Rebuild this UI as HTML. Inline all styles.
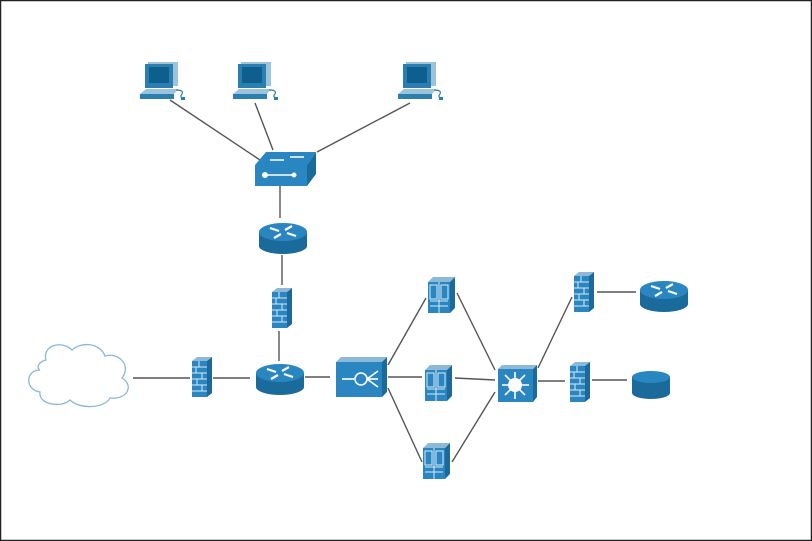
<!DOCTYPE html>
<html><head><style>html,body{margin:0;padding:0;background:#fff}svg{display:block}</style></head><body>
<svg width="812" height="541" viewBox="0 0 812 541" xmlns="http://www.w3.org/2000/svg">
<defs>
<g id="pc">
  <rect x="8" y="0" width="30" height="24" fill="#9cc3dc"/>
  <rect x="5" y="2" width="28" height="24" fill="#2a7fb0"/>
  <rect x="9" y="5" width="20" height="16" fill="#0f5f8e"/>
  <polygon points="0,32 6,27 38,27 34,32" fill="#9cc3dc"/>
  <rect x="0" y="32" width="34" height="5" fill="#2a7fb0"/>
  <path d="M36,28 q8,0 6,4 q-3,3 2,5" stroke="#2a7fb0" stroke-width="1.2" fill="none"/>
  <rect x="41" y="35" width="4" height="3" fill="#2a7fb0"/>
</g>
<g id="fw">
  <polygon points="0,4 5,0 20,0 15,4" fill="#8cb9d8"/>
  <polygon points="15,4 20,0 20,36 15,40" fill="#1d6a9a"/>
  <rect x="0" y="4" width="15" height="36" fill="#2a86c0"/>
  <g stroke="#d8ecf7" stroke-width="1">
    <line x1="0" y1="10" x2="15" y2="10"/><line x1="0" y1="16" x2="15" y2="16"/><line x1="0" y1="22" x2="15" y2="22"/><line x1="0" y1="28" x2="15" y2="28"/><line x1="0" y1="34" x2="15" y2="34"/>
    <line x1="7" y1="4" x2="7" y2="10"/><line x1="4" y1="10" x2="4" y2="16"/><line x1="10" y1="16" x2="10" y2="22"/><line x1="5" y1="22" x2="5" y2="28"/><line x1="10" y1="28" x2="10" y2="34"/>
  </g>
</g>
<g id="router">
  <rect x="0" y="12" width="48" height="14" fill="#1a6a9c"/>
  <ellipse cx="24" cy="26" rx="24" ry="8" fill="#1a6a9c"/>
  <ellipse cx="24" cy="12" rx="24" ry="9" fill="#2a86c0"/>
  <g stroke="#fff" stroke-width="2.2">
    <line x1="11" y1="8" x2="20" y2="11"/><line x1="37" y1="16" x2="28" y2="13"/>
    <line x1="33" y1="6" x2="26" y2="10"/><line x1="15" y1="18" x2="22" y2="14"/>
  </g>
</g>
<g id="srv">
  <polygon points="0,5 5,0 27,0 22,5" fill="#8cb9d8"/>
  <polygon points="22,5 27,0 27,31 22,36" fill="#1d6a9a"/>
  <rect x="0" y="5" width="22" height="31" fill="#2a86c0"/>
  <g stroke="#d8ecf7" stroke-width="1" fill="none">
    <line x1="11" y1="5" x2="11" y2="36"/><line x1="2" y1="24" x2="20" y2="24"/><line x1="2" y1="29" x2="20" y2="29"/>
    <rect x="2" y="8" width="7" height="14"/><rect x="13" y="8" width="7" height="14"/>
  </g>
</g>
</defs>
<rect x="0.5" y="0.5" width="811" height="540" fill="#fff" stroke="#222" stroke-width="1.5"/>
<g stroke="#555" stroke-width="1.4" fill="none">
  <line x1="170" y1="100" x2="260" y2="160"/>
  <line x1="255" y1="103" x2="273" y2="150"/>
  <line x1="410" y1="103" x2="317" y2="152"/>
  <line x1="280" y1="186" x2="280" y2="218"/>
  <line x1="282" y1="255" x2="282" y2="285"/>
  <line x1="279" y1="331" x2="279" y2="361"/>
  <line x1="133" y1="378" x2="190" y2="378"/>
  <line x1="213" y1="378" x2="250" y2="378"/>
  <line x1="305" y1="377" x2="330" y2="377"/>
  <line x1="388" y1="365" x2="426" y2="298"/>
  <line x1="388" y1="377" x2="422" y2="377"/>
  <line x1="388" y1="388" x2="422" y2="462"/>
  <line x1="457" y1="293" x2="495" y2="370"/>
  <line x1="455" y1="378" x2="495" y2="380"/>
  <line x1="452" y1="462" x2="495" y2="392"/>
  <line x1="538" y1="368" x2="572" y2="297"/>
  <line x1="538" y1="381" x2="565" y2="381"/>
  <line x1="597" y1="292" x2="636" y2="292"/>
  <line x1="592" y1="380" x2="627" y2="380"/>
</g>
<use href="#pc" x="140" y="62"/>
<use href="#pc" x="233" y="62"/>
<use href="#pc" x="398" y="62"/>
<!-- switch -->
<polygon points="255,165 266,152 316,152 307,165" fill="#2a86c0"/>
<polygon points="307,165 316,152 316,174 307,186" fill="#1a6a9c"/>
<rect x="255" y="165" width="52" height="21" fill="#2a86c0"/>
<g stroke="#fff" stroke-width="1.5"><line x1="270" y1="160" x2="284" y2="160"/><line x1="290" y1="157" x2="304" y2="157"/><line x1="266" y1="175" x2="292" y2="175"/></g>
<circle cx="265" cy="175" r="3" fill="#fff"/><circle cx="294" cy="175" r="2.5" fill="#fff"/>
<use href="#router" x="259" y="220"/>
<use href="#fw" x="272" y="288"/>
<use href="#router" x="256" y="361"/>
<!-- cloud -->
<path d="M40,370 C25,370 25,390 40,392 C38,405 62,408 70,400 C80,410 105,408 110,398 C128,400 134,385 122,378 C132,365 118,352 105,356 C100,342 80,342 72,350 C62,340 42,345 46,360 C38,362 36,368 40,370 Z" fill="#fff" stroke="#8ab7d6" stroke-width="1.3"/>
<use href="#fw" x="192" y="357"/>
<!-- load balancer -->
<polygon points="336,362 341,357 387,357 382,362" fill="#8cb9d8"/>
<polygon points="382,362 387,357 387,392 382,397" fill="#1a6a9c"/>
<rect x="336" y="362" width="46" height="35" fill="#2a86c0"/>
<g stroke="#fff" stroke-width="1.6" fill="none"><line x1="342" y1="379" x2="354" y2="379"/><circle cx="361" cy="379" r="6"/><line x1="367" y1="379" x2="378" y2="371"/><line x1="367" y1="379" x2="378" y2="379"/><line x1="367" y1="379" x2="378" y2="387"/></g>
<use href="#srv" x="428" y="277"/>
<use href="#srv" x="425" y="365"/>
<use href="#srv" x="423" y="443"/>
<!-- L3 switch -->
<polygon points="498,369 502,365 537,365 533,369" fill="#8cb9d8"/>
<polygon points="533,369 537,365 537,397 533,402" fill="#1a6a9c"/>
<rect x="498" y="369" width="35" height="33" fill="#2a86c0"/>
<circle cx="515" cy="385" r="7" fill="#fff"/>
<g stroke="#fff" stroke-width="1.6"><line x1="502" y1="385" x2="529" y2="385"/><line x1="515" y1="372" x2="515" y2="399"/><line x1="505" y1="375" x2="525" y2="395"/><line x1="525" y1="375" x2="505" y2="395"/></g>
<use href="#fw" x="574" y="272"/>
<use href="#fw" x="570" y="362"/>
<use href="#router" x="640" y="278"/>
<!-- db -->
<rect x="632" y="377" width="38" height="16" fill="#1a6a9c"/>
<ellipse cx="651" cy="393" rx="19" ry="6" fill="#1a6a9c"/>
<ellipse cx="651" cy="377" rx="19" ry="6" fill="#2a86c0"/>
</svg>
</body></html>
